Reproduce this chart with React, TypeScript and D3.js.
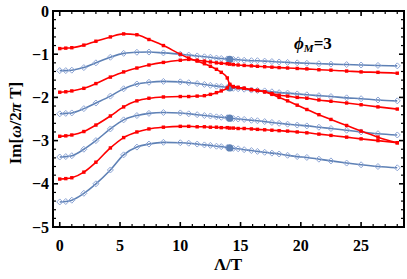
import React from "react";
import * as d3 from "d3";

const X = [0, 0.5, 1, 2, 3, 4.2, 5.3, 6.4, 7.4, 8.6, 10, 10.7, 11.4, 12, 12.5, 13, 13.4, 13.9, 14.1, 14.4, 14.8, 15.3, 15.9, 16.4, 17, 17.6, 18.2, 18.9, 19.7, 20.5, 21.5, 22.5, 23.8, 25, 26.4, 28];

const blue1 = [-1.38, -1.38, -1.37, -1.31, -1.2, -1.07, -0.98, -0.955, -0.95, -0.97, -1.0, -1.02, -1.04, -1.06, -1.07, -1.09, -1.1, -1.11, -1.12, -1.12, -1.13, -1.14, -1.15, -1.15, -1.16, -1.17, -1.18, -1.19, -1.2, -1.21, -1.22, -1.23, -1.24, -1.25, -1.26, -1.27];
const blue2 = [-2.38, -2.37, -2.36, -2.26, -2.13, -1.97, -1.8, -1.69, -1.65, -1.63, -1.64, -1.66, -1.68, -1.7, -1.72, -1.74, -1.75, -1.77, -1.78, -1.79, -1.8, -1.81, -1.83, -1.84, -1.85, -1.87, -1.89, -1.9, -1.92, -1.94, -1.96, -1.98, -2.01, -2.03, -2.06, -2.08];
const blue3 = [-3.38, -3.37, -3.35, -3.2, -3.0, -2.73, -2.52, -2.42, -2.37, -2.35, -2.36, -2.38, -2.4, -2.42, -2.43, -2.45, -2.46, -2.47, -2.48, -2.49, -2.5, -2.51, -2.53, -2.54, -2.56, -2.58, -2.6, -2.62, -2.64, -2.66, -2.69, -2.72, -2.76, -2.8, -2.84, -2.87];
const blue4 = [-4.42, -4.41, -4.38, -4.22, -4.0, -3.68, -3.33, -3.15, -3.08, -3.04, -3.05, -3.06, -3.08, -3.1, -3.11, -3.13, -3.14, -3.16, -3.17, -3.18, -3.19, -3.21, -3.23, -3.25, -3.27, -3.29, -3.31, -3.34, -3.37, -3.39, -3.43, -3.47, -3.52, -3.56, -3.6, -3.63];

const red1 = [-0.87, -0.86, -0.85, -0.79, -0.7, -0.6, -0.53, -0.55, -0.66, -0.8, -1.0, -1.09, -1.16, -1.22, -1.28, -1.35, -1.42, -1.55, -1.7, -1.75, -1.77, -1.79, -1.82, -1.84, -1.87, -1.93, -2.0, -2.08, -2.18, -2.28, -2.4, -2.51, -2.65, -2.78, -2.92, -3.05];
const red2 = [-1.88, -1.87, -1.85, -1.79, -1.68, -1.53, -1.41, -1.32, -1.25, -1.19, -1.14, -1.12, -1.14, -1.16, -1.18, -1.2, -1.21, -1.22, -1.23, -1.24, -1.25, -1.26, -1.27, -1.28, -1.29, -1.3, -1.31, -1.32, -1.33, -1.34, -1.36, -1.37, -1.39, -1.41, -1.42, -1.44];
const red3 = [-2.9, -2.89, -2.87, -2.79, -2.64, -2.43, -2.22, -2.08, -2.02, -1.99, -1.98, -1.98, -1.97, -1.96, -1.93, -1.89, -1.85, -1.78, -1.7, -1.75, -1.77, -1.79, -1.82, -1.84, -1.87, -1.91, -1.95, -1.97, -2.0, -2.02, -2.06, -2.09, -2.13, -2.17, -2.22, -2.27];
const red4 = [-3.89, -3.88, -3.86, -3.73, -3.5, -3.17, -2.93, -2.8, -2.73, -2.69, -2.67, -2.67, -2.68, -2.68, -2.69, -2.69, -2.7, -2.7, -2.71, -2.71, -2.72, -2.72, -2.73, -2.74, -2.75, -2.76, -2.77, -2.78, -2.8, -2.82, -2.85, -2.88, -2.92, -2.96, -3.0, -3.05];

const blueSeries = [blue1, blue2, blue3, blue4];
const redSeries = [red1, red2, red3, red4];
const blobIndex = 18;

const xTicks = [0, 5, 10, 15, 20, 25];
const yTicks = [0, -1, -2, -3, -4, -5];

const W = 407, H = 279;
const L = 53, R = 404, T = 11, B = 227;

export default function App() {
  const x = d3.scaleLinear().domain([-0.56, 28.56]).range([L, R]);
  const y = d3.scaleLinear().domain([-5, 0]).range([B, T]);
  const line = d3.line<number>().x((_, i) => x(X[i])).y((v) => y(v)).curve(d3.curveMonotoneX);

  const blueLine = "#5e81b5";
  const blueMark = "#8ea6d6";
  const red = "#ff0000";
  const font = "'Liberation Serif', 'Times New Roman', serif";

  const xMinor = d3.range(0, 29, 1);
  const yMinor = d3.range(-5, 0.001, 0.2);

  const diamond = (cx: number, cy: number, s: number) =>
    `M${cx},${cy - s}L${cx + s},${cy}L${cx},${cy + s}L${cx - s},${cy}Z`;

  return (
    <div style={{ position: "absolute", left: 0, top: 0 }}>
      <svg width={W} height={H} style={{ display: "block", background: "#fff" }}>
        <defs>
          <clipPath id="plot">
            <rect x={L} y={T} width={R - L} height={B - T} />
          </clipPath>
        </defs>
        <g clipPath="url(#plot)">
          {blueSeries.map((s, k) => (
            <g key={"b" + k}>
              <path d={line(s) || ""} fill="none" stroke={blueLine} strokeWidth={1.6} />
              {s.map((v, i) => (
                <path key={i} d={diamond(x(X[i]), y(v), 3)} fill="none" stroke={blueMark} strokeWidth={1} />
              ))}
              <circle cx={x(X[blobIndex])} cy={y(s[blobIndex])} r={3.6} fill={blueLine} />
            </g>
          ))}
          {redSeries.map((s, k) => (
            <g key={"r" + k}>
              <path d={line(s) || ""} fill="none" stroke={red} strokeWidth={1.6} />
              {s.map((v, i) => (
                <rect key={i} x={x(X[i]) - 1.7} y={y(v) - 1.7} width={3.4} height={3.4} fill={red} />
              ))}
            </g>
          ))}
        </g>
        <g stroke="#000">
          {xMinor.map((t) => {
            const major = t % 5 === 0;
            const len = major ? 5 : 3;
            return (
              <g key={"xt" + t}>
                <line x1={x(t)} x2={x(t)} y1={B} y2={B - len} strokeWidth={major ? 1.6 : 1.2} />
                <line x1={x(t)} x2={x(t)} y1={T} y2={T + len} strokeWidth={major ? 1.6 : 1.2} />
              </g>
            );
          })}
          {yMinor.map((t, i) => {
            const major = i % 5 === 0;
            const len = major ? 5 : 3;
            return (
              <g key={"yt" + i}>
                <line x1={L} x2={L + len} y1={y(t)} y2={y(t)} strokeWidth={major ? 1.6 : 1.2} />
                <line x1={R} x2={R - len} y1={y(t)} y2={y(t)} strokeWidth={major ? 1.6 : 1.2} />
              </g>
            );
          })}
        </g>
        <rect x={L} y={T} width={R - L} height={B - T} fill="none" stroke="#000" strokeWidth={2} />
        <g fontFamily={font} fontWeight="bold" fontSize={16} fill="#000">
          {xTicks.map((t) => (
            <text key={"xl" + t} x={x(t)} y={251} textAnchor="middle">{t}</text>
          ))}
          {yTicks.map((t) => (
            <text key={"yl" + t} x={49} y={y(t) + 5.5} textAnchor="end">{t === 0 ? "0" : "\u2212" + Math.abs(t)}</text>
          ))}
        </g>
        <text x={228} y={270} textAnchor="middle" fontFamily={font} fontWeight="bold" fontSize={17}>Λ/T</text>
        <text transform={`translate(21,${(T + B) / 2 + 4}) rotate(-90)`} textAnchor="middle" fontFamily={font} fontWeight="bold" fontSize={17}>
          Im[<tspan fontStyle="italic">ω</tspan>/2<tspan fontStyle="italic">π</tspan> T]
        </text>
        <text x={294} y={49} fontFamily={font} fontWeight="bold" fontSize={17}>
          <tspan fontStyle="italic">ϕ</tspan>
          <tspan fontStyle="italic" fontSize={11} dy={3}>M</tspan>
          <tspan dy={-3}>=3</tspan>
        </text>
      </svg>
    </div>
  );
}
